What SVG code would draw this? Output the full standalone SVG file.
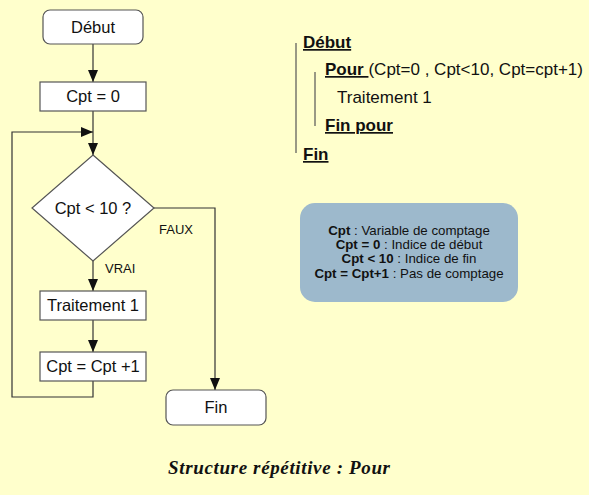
<svg xmlns="http://www.w3.org/2000/svg" width="589" height="495" viewBox="0 0 589 495">
<defs>
<marker id="ah" viewBox="0 0 12 10" refX="12" refY="5" markerWidth="12" markerHeight="10" markerUnits="userSpaceOnUse" orient="auto">
<path d="M0,0 L12,5 L0,10 Z" fill="#111"/>
</marker>
</defs>
<style>
.box{fill:#fff;stroke:#555;stroke-width:1.2}
.t{font-family:"Liberation Sans",Arial,sans-serif;font-size:16.5px;fill:#111;text-anchor:middle}
.lbl{font-family:"Liberation Sans",Arial,sans-serif;font-size:13px;fill:#111}
.ln{fill:none;stroke:#333;stroke-width:1.2}
.code{font-family:"Liberation Sans",Arial,sans-serif;font-size:17px;fill:#111}
.kw{font-weight:bold;text-decoration:underline}
.info{font-family:"Liberation Sans",Arial,sans-serif;font-size:13.3px;fill:#111;text-anchor:middle}
</style>
<rect width="589" height="495" fill="#FFFFCC"/>
<g id="connectors">
<line class="ln" x1="93" y1="44" x2="93" y2="82" marker-end="url(#ah)"/>
<line class="ln" x1="93" y1="111" x2="93" y2="155" marker-end="url(#ah)"/>
<polyline class="ln" points="93,381 93,397 12,397 12,132 93,132" marker-end="url(#ah)"/>
<line class="ln" x1="93" y1="260" x2="93" y2="291" marker-end="url(#ah)"/>
<line class="ln" x1="93" y1="320" x2="93" y2="352" marker-end="url(#ah)"/>
<polyline class="ln" points="154,208 215,208 215,390" marker-end="url(#ah)"/>
<text class="lbl" x="159" y="234">FAUX</text>
<text class="lbl" x="105" y="273">VRAI</text>
</g>
<g id="debut">
<rect class="box" x="43" y="10" width="100" height="34" rx="7"/>
<text class="t" x="93" y="33">Début</text>
</g>
<g id="init">
<rect class="box" x="40" y="82" width="106" height="29"/>
<text class="t" x="93" y="102">Cpt = 0</text>
</g>
<g id="test">
<polygon class="box" points="93,155 154,208 93,261 32,208"/>
<text class="t" x="93" y="214">Cpt &lt; 10 ?</text>
</g>
<g id="traitement">
<rect class="box" x="40" y="291" width="106" height="29"/>
<text class="t" x="93" y="311">Traitement 1</text>
</g>
<g id="incr">
<rect class="box" x="40" y="352" width="106" height="29"/>
<text class="t" x="93" y="372">Cpt = Cpt +1</text>
</g>
<g id="fin">
<rect class="box" x="166" y="390" width="100" height="35" rx="7"/>
<text class="t" x="216" y="413">Fin</text>
</g>
<g id="pseudocode">
<line x1="296" y1="43" x2="296" y2="153" stroke="#555" stroke-width="1.2"/>
<line x1="315" y1="72" x2="315" y2="126" stroke="#555" stroke-width="1.2"/>
<text class="code kw" x="303" y="48">Début</text>
<text class="code" x="325" y="75"><tspan class="kw">Pour </tspan><tspan>(Cpt=0 , Cpt&lt;10, Cpt=cpt+1)</tspan></text>
<text class="code" x="337" y="103">Traitement 1</text>
<text class="code kw" x="325" y="131">Fin pour</text>
<text class="code kw" x="303" y="160">Fin</text>
</g>
<g id="legend">
<rect x="300" y="203" width="218" height="99" rx="15" fill="#9DB9CC"/>
<text class="info" x="409" y="235"><tspan font-weight="bold">Cpt</tspan> : Variable de comptage</text>
<text class="info" x="409" y="249"><tspan font-weight="bold">Cpt = 0</tspan> : Indice de début</text>
<text class="info" x="409" y="263"><tspan font-weight="bold">Cpt &lt; 10</tspan> : Indice de fin</text>
<text class="info" x="409" y="278"><tspan font-weight="bold">Cpt = Cpt+1</tspan> : Pas de comptage</text>
</g>
<text x="168" y="474" font-family="'Liberation Serif','Times New Roman',serif" font-size="19px" font-weight="bold" font-style="italic" fill="#111" textLength="222">Structure répétitive : Pour</text>
</svg>
